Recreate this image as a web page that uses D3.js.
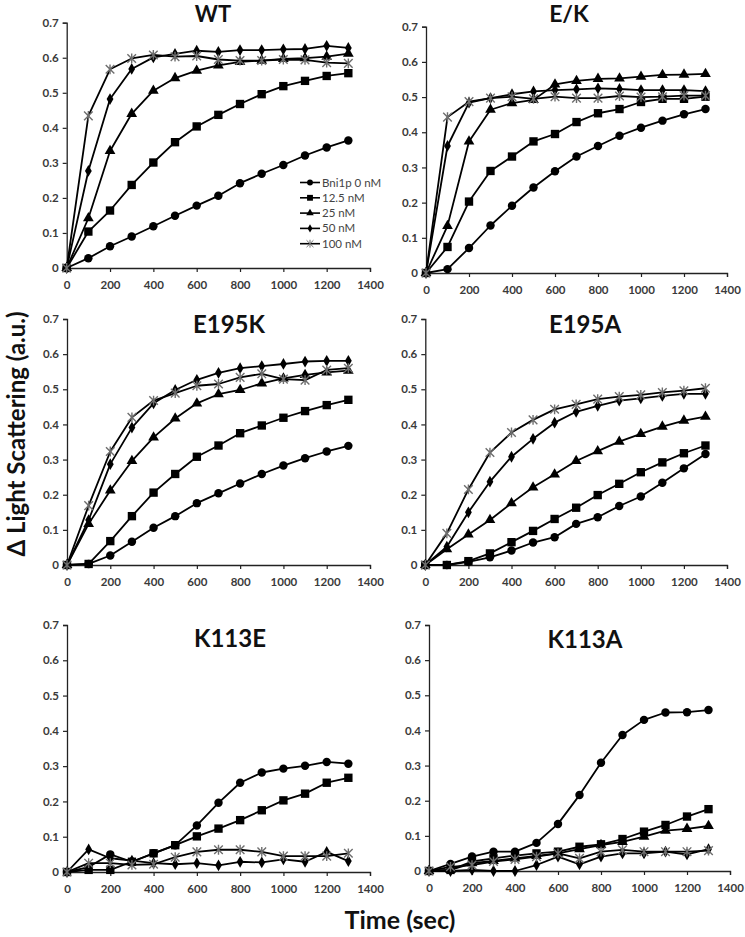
<!DOCTYPE html>
<html><head><meta charset="utf-8">
<script src="https://cdn.jsdelivr.net/npm/d3@7/dist/d3.min.js"></script>
<style>body{margin:0;background:#fff}svg{display:block}</style>
</head><body>
<svg id="chart" width="745" height="937"></svg>
<script>
// ---------- data ----------
const times = [0,100,200,300,400,500,600,700,800,900,1000,1100,1200,1300];
const seriesNames = ["Bni1p 0 nM","12.5 nM","25 nM","50 nM","100 nM"];
const markerTypes = ["circle","square","triangle","diamond","star"];
const panelTitles = ["WT","E/K","E195K","E195A","K113E","K113A"];
const xTicks = [0,200,400,600,800,1000,1200,1400];
const yTicks = [0,0.1,0.2,0.3,0.4,0.5,0.6,0.7];

const wtValues = [
  [0,0.028,0.062,0.090,0.119,0.149,0.178,0.206,0.242,0.269,0.294,0.321,0.344,0.364],
  [0,0.104,0.164,0.237,0.301,0.359,0.404,0.437,0.468,0.496,0.519,0.534,0.548,0.556],
  [0,0.142,0.334,0.440,0.506,0.542,0.563,0.578,0.588,0.592,0.597,0.599,0.603,0.612],
  [0,0.277,0.482,0.568,0.601,0.611,0.620,0.617,0.622,0.622,0.624,0.625,0.634,0.628],
  [0,0.434,0.567,0.598,0.608,0.603,0.605,0.595,0.592,0.592,0.595,0.594,0.586,0.584]
];
const ekValues = [
  [0,0.011,0.071,0.135,0.191,0.243,0.289,0.331,0.361,0.390,0.413,0.433,0.451,0.466],
  [0,0.074,0.203,0.290,0.331,0.374,0.395,0.429,0.454,0.466,0.486,0.495,0.495,0.501],
  [0,0.134,0.374,0.464,0.483,0.492,0.536,0.546,0.552,0.553,0.558,0.563,0.564,0.566],
  [0,0.361,0.484,0.497,0.508,0.516,0.520,0.522,0.525,0.523,0.520,0.520,0.520,0.517],
  [0,0.443,0.487,0.497,0.501,0.495,0.501,0.497,0.497,0.503,0.500,0.501,0.504,0.504]
];
const e195kValues = [
  [0,0.003,0.027,0.066,0.106,0.139,0.176,0.204,0.232,0.259,0.283,0.304,0.323,0.339],
  [0,0.003,0.068,0.139,0.206,0.259,0.308,0.340,0.375,0.397,0.419,0.438,0.455,0.470],
  [0,0.117,0.212,0.296,0.363,0.417,0.460,0.486,0.498,0.517,0.531,0.541,0.548,0.553],
  [0,0.128,0.287,0.391,0.460,0.498,0.527,0.547,0.560,0.566,0.572,0.579,0.581,0.581],
  [0,0.169,0.323,0.420,0.468,0.489,0.510,0.515,0.534,0.544,0.529,0.526,0.555,0.560]
];
const e195aValues = [
  [0,0.000,0.009,0.022,0.041,0.064,0.079,0.117,0.136,0.168,0.195,0.234,0.275,0.316],
  [0,0.000,0.011,0.033,0.065,0.097,0.131,0.163,0.199,0.231,0.264,0.292,0.318,0.340],
  [0,0.045,0.087,0.128,0.176,0.221,0.258,0.296,0.324,0.351,0.373,0.394,0.411,0.422],
  [0,0.052,0.150,0.237,0.308,0.359,0.405,0.436,0.453,0.468,0.474,0.481,0.487,0.487],
  [0,0.090,0.215,0.320,0.377,0.413,0.443,0.457,0.472,0.479,0.484,0.491,0.496,0.503]
];
const k113eValues = [
  [0,0.014,0.050,0.029,0.053,0.076,0.132,0.196,0.253,0.282,0.293,0.301,0.312,0.307],
  [0,0.006,0.006,0.029,0.053,0.076,0.101,0.123,0.147,0.175,0.203,0.222,0.253,0.267],
  null,
  [0,0.064,0.039,0.032,0.025,0.022,0.025,0.019,0.029,0.027,0.036,0.029,0.057,0.031],
  [0,0.025,0.025,0.020,0.022,0.042,0.057,0.063,0.063,0.057,0.045,0.045,0.045,0.053]
];
const k113aValues = [
  [0,0.020,0.041,0.055,0.055,0.080,0.134,0.216,0.308,0.387,0.430,0.451,0.452,0.458],
  [0,0.003,0.027,0.036,0.044,0.050,0.055,0.069,0.076,0.091,0.112,0.131,0.155,0.176],
  [0,0.003,0.022,0.029,0.036,0.043,0.050,0.062,0.074,0.083,0.098,0.115,0.120,0.128],
  [0,0.000,0.003,0.000,0.000,0.017,0.041,0.019,0.041,0.050,0.050,0.055,0.047,0.062],
  [0,0.012,0.017,0.027,0.033,0.041,0.050,0.036,0.055,0.060,0.055,0.055,0.055,0.058]
];
const panelValues = [wtValues, ekValues, e195kValues, e195aValues, k113eValues, k113aValues];

// ---------- layout ----------
const frames = [
  {x0:66.7, x1:370, y0:268, y1:22.7, tx:213, ty:22, fs:22},
  {x0:426,  x1:727, y0:273, y1:26.7, tx:569, ty:22, fs:23},
  {x0:67,   x1:370, y0:565, y1:319,  tx:229, ty:333, fs:24},
  {x0:425.3,x1:727, y0:565, y1:319,  tx:585, ty:333, fs:24},
  {x0:67,   x1:370, y0:872, y1:625,  tx:230, ty:647, fs:24},
  {x0:429,  x1:730, y0:871, y1:625,  tx:585, ty:648, fs:24}
];

const svg = d3.select("#chart");
const FONT = "Lato, 'Open Sans', sans-serif";
const tickColor = "#3a3a3a";

function markerPath(type){
  if(type==="circle") return d3.symbol(d3.symbolCircle, 56)();
  if(type==="square") return d3.symbol(d3.symbolSquare, 70)();
  if(type==="triangle") return d3.symbol(d3.symbolTriangle, 50)();
  if(type==="diamond") return d3.symbol(d3.symbolDiamond, 40)();
  const r = 4.3;
  return `M${-r},${-r}L${r},${r}M${-r},${r}L${r},${-r}M0,${-r-0.6}L0,${r+0.6}`;
}

panelValues.forEach((vals, pi) => {
  const f = frames[pi];
  const x = d3.scaleLinear().domain([0,1400]).range([f.x0, f.x1]);
  const y = d3.scaleLinear().domain([0,0.7]).range([f.y0, f.y1]);
  const g = svg.append("g");

  const xAxis = d3.axisBottom(x).tickValues(xTicks).tickSize(4).tickFormat(d3.format("d"));
  const yAxis = d3.axisLeft(y).tickValues(yTicks).tickSize(4).tickFormat(d => d===0 ? "0" : d3.format(".1f")(d));
  const gx = g.append("g").attr("transform",`translate(0,${f.y0})`).call(xAxis);
  const gy = g.append("g").attr("transform",`translate(${f.x0},0)`).call(yAxis);
  [gx,gy].forEach(a => {
    a.select(".domain").attr("stroke","#222").attr("stroke-width",1.3);
    a.selectAll(".tick line").attr("stroke","#222").attr("stroke-width",1.2);
    a.selectAll(".tick text").attr("fill",tickColor).attr("font-family",FONT)
      .attr("font-weight","bold").attr("font-size","11.5px");
  });
  gx.selectAll(".tick text").attr("dy","1.2em");
  gy.selectAll(".tick text").attr("x",-8);

  g.append("text").attr("x",f.tx).attr("y",f.ty).attr("text-anchor","middle")
    .attr("font-family",FONT).attr("font-weight","bold").attr("font-size",f.fs+"px")
    .attr("fill","#111").text(panelTitles[pi]);

  const line = d3.line().x((d,i)=>x(times[i])).y(d=>y(d));
  vals.forEach(series => {
    if(!series) return;
    g.append("path").datum(series).attr("d",line).attr("fill","none")
      .attr("stroke","#000").attr("stroke-width",1.8).attr("stroke-linejoin","round");
  });
  vals.forEach((series, si) => {
    if(!series) return;
    const type = markerTypes[si];
    const pts = g.append("g").selectAll("path").data(series).join("path")
      .attr("transform",(d,i)=>`translate(${x(times[i])},${y(d)})`)
      .attr("d", markerPath(type));
    if(type==="star") pts.attr("fill","none").attr("stroke","#6e6e6e").attr("stroke-width",1.4);
    else pts.attr("fill","#000");
  });
});

// legend (WT panel)
const leg = svg.append("g");
seriesNames.forEach((name, i) => {
  const ly = 182.5 + i*15.3;
  leg.append("line").attr("x1",300).attr("x2",320).attr("y1",ly).attr("y2",ly)
    .attr("stroke","#000").attr("stroke-width",1.6);
  const m = leg.append("path").attr("d",markerPath(markerTypes[i]));
  if(markerTypes[i]==="star") m.attr("fill","none").attr("stroke","#6e6e6e").attr("stroke-width",1.2).attr("transform",`translate(310,${ly}) scale(0.8)`);
  else m.attr("fill","#000").attr("transform",`translate(310,${ly}) scale(0.7)`);
  leg.append("text").attr("x",322).attr("y",ly).attr("dy","0.35em")
    .attr("font-family",FONT).attr("font-size","11.5px").attr("fill","#444").text(name);
});

// axis titles
svg.append("text").attr("transform","translate(25,434) rotate(-90)").attr("text-anchor","middle")
  .attr("font-family",FONT).attr("font-weight","bold").attr("font-size","24px").attr("fill","#111")
  .text("\u0394 Light Scattering (a.u.)");
svg.append("text").attr("x",400).attr("y",929).attr("text-anchor","middle")
  .attr("font-family",FONT).attr("font-weight","bold").attr("font-size","25px").attr("fill","#111")
  .text("Time (sec)");
</script>
</body></html>
